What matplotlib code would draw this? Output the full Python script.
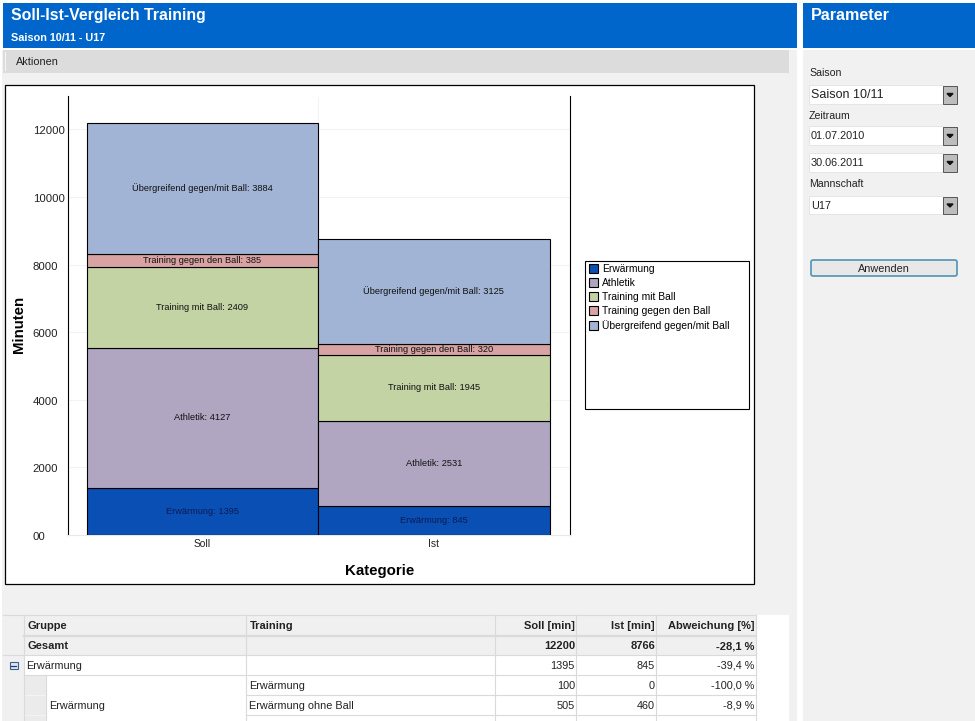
import matplotlib
matplotlib.use("Agg")
import matplotlib.pyplot as plt
from matplotlib.patches import Rectangle, FancyBboxPatch
from matplotlib.transforms import ScaledTranslation

plt.rcParams['font.family'] = ['Liberation Sans', 'DejaVu Sans']

categories = ['Soll', 'Ist']
groups = ['Erwärmung', 'Athletik', 'Training mit Ball', 'Training gegen den Ball', 'Übergreifend gegen/mit Ball']
soll = [1395, 4127, 2409, 385, 3884]
ist = [845, 2531, 1945, 320, 3125]
colors = ['#0a50b4', '#b0a6c2', '#c3d3a3', '#d9a3a3', '#a2b4d5']
yticks = [0, 2000, 4000, 6000, 8000, 10000, 12000]
ytick_labels = ['00', '2000', '4000', '6000', '8000', '10000', '12000']

table_head = ['Gruppe', 'Training', 'Soll [min]', 'Ist [min]', 'Abweichung [%]']
total_row = ['Gesamt', '', '12200', '8766', '-28,1 %']
group_row = ['Erwärmung', '', '1395', '845', '-39,4 %']
detail_rows = [['Erwärmung', '100', '0', '-100,0 %'],
               ['Erwärmung ohne Ball', '505', '460', '-8,9 %']]

W, H = 975, 721
fig = plt.figure(figsize=(W / 100, H / 100), dpi=100, facecolor='white')

# background in pixel coords
bg = fig.add_axes([0, 0, 1, 1], zorder=0)
bg.set_xlim(0, W)
bg.set_ylim(H, 0)
bg.axis('off')


def box(x0, y0, x1, y1, fc, ec='none', lw=0.0, z=1):
    bg.add_patch(Rectangle((x0, y0), x1 - x0, y1 - y0, facecolor=fc, edgecolor=ec, linewidth=lw, zorder=z))


def label(x, y, s, size=7.6, color='#222222', weight='normal', ha='left'):
    bg.text(x, y + 0.6, s, fontsize=size, color=color, fontweight=weight, ha=ha, va='center', zorder=6)


blue = '#0066cc'
box(2, 50, 797, 721, '#f1f1f1')
box(803, 50, 975, 721, '#f1f1f1')
box(3, 3, 797, 48, blue)
box(803, 3, 975, 48, blue)
box(3, 50, 789, 73, '#dcdcdc')
box(5, 52, 6, 71, '#f4f4f4', z=2)
label(11, 15, 'Soll-Ist-Vergleich Training', size=11.4, color='white', weight='bold')
label(11, 37.5, 'Saison 10/11 - U17', size=7.8, color='white', weight='bold')
label(811, 14.5, 'Parameter', size=11.6, color='white', weight='bold')
label(16, 61.5, 'Aktionen', size=7.8)

# right panel
label(809, 72.5, 'Saison')
label(809, 115, 'Zeitraum')
label(809, 183.5, 'Mannschaft')
fields = [(85, 104, 'Saison 10/11', 9), (126, 145, '01.07.2010', 7.8),
          (153, 172, '30.06.2011', 7.8), (196, 214, 'U17', 7.8)]
for y0, y1, txt, fs in fields:
    box(809, y0, 943, y1, 'white', ec='#e2e2e2', lw=0.6)
    box(943, y0 + 1, 957, y1, '#bdbdbd', ec='#555555', lw=0.7)
    bg.fill([947, 953, 950], [(y0 + y1) / 2 - 1, (y0 + y1) / 2 - 1, (y0 + y1) / 2 + 2], color='#111111', zorder=3)
    label(811, (y0 + y1) / 2, txt, size=fs)
bg.add_patch(FancyBboxPatch((811, 260), 146, 16, boxstyle='round,pad=0,rounding_size=2',
                            facecolor='#e8e8e8', edgecolor='#4f93b5', linewidth=1.2, zorder=3))
label(884, 268.5, 'Anwenden', size=7.8, ha='center')

# chart frame and legend frame
box(5, 85, 754, 584, 'white', ec='black', lw=0.9)
box(585, 261, 749, 409, 'white', ec='black', lw=0.8, z=2)

# table
box(3, 615, 789, 721, 'white')
box(3, 615, 756, 655, '#f0f0f0')
box(3, 655, 24, 721, '#f0f0f0')
box(24, 675, 46, 721, '#ebebeb')
line = '#dadada'
bg.plot([3, 756], [615, 615], color=line, lw=0.8, zorder=3)
bg.plot([24, 756], [635.5, 635.5], color=line, lw=1.6, zorder=3)
bg.plot([3, 756], [655, 655], color=line, lw=0.8, zorder=3)
bg.plot([24, 756], [675, 675], color=line, lw=0.8, zorder=3)
for y in [695, 715]:
    bg.plot([24, 46], [y, y], color='#f4f4f4', lw=0.8, zorder=3)
    bg.plot([246, 756], [y, y], color=line, lw=0.8, zorder=3)
for x, top in [(24, 615), (246, 615), (495, 615), (576, 615), (656, 615), (756, 615), (46, 675)]:
    bg.plot([x, x], [top, 721], color=line, lw=0.8, zorder=3)

right_x = [575, 655, 754]
label(28, 625.5, table_head[0], size=8, weight='bold')
label(250, 625.5, table_head[1], size=8, weight='bold')
for x, s in zip(right_x, table_head[2:]):
    label(x, 625.5, s, size=8, weight='bold', ha='right')
label(28, 645.5, total_row[0], size=8, weight='bold')
for x, s in zip(right_x, total_row[2:]):
    label(x, 645.5, s, size=8, weight='bold', ha='right')
label(26.5, 665, group_row[0], size=7.8)
for x, s in zip(right_x, group_row[2:]):
    label(x, 665, s, size=7.8, ha='right')
for y, row in zip([685, 705], detail_rows):
    label(249, y, row[0], size=7.8)
    for x, s in zip(right_x, row[1:]):
        label(x, y, s, size=7.8, ha='right')
label(49, 705, 'Erwärmung', size=7.8)
# expand icon
box(9.5, 662, 17.5, 669, '#dfe6f2', ec='#3a5f8a', lw=0.8, z=5)
bg.plot([11, 16], [665.5, 665.5], color='#1d3f6e', lw=0.9, zorder=6)

# chart
ax = fig.add_axes([67.5 / W, 1 - 534.8 / H, (570 - 67.5) / W, (534.8 - 96.5) / H], zorder=2)
ax.patch.set_visible(False)
bottoms = [0, 0]
handles = []
for i, g in enumerate(groups):
    vals = [soll[i], ist[i]]
    bars = ax.bar([0, 1], vals, width=1.0, bottom=bottoms, color=colors[i], edgecolor='black', linewidth=0.8, zorder=3)
    handles.append(bars[0])
    for j, v in enumerate(vals):
        txt_col = '#0a1a55' if i == 0 else '#111111'
        ax.text(j, bottoms[j] + v / 2, f'{g}: {v}', ha='center', va='center', fontsize=6.7, color=txt_col, zorder=4)
    bottoms = [bottoms[0] + vals[0], bottoms[1] + vals[1]]

ax.set_xlim(-0.583, 1.588)
ax.set_ylim(0, 12975)
ax.set_xticks([0, 1], categories)
ax.set_yticks(yticks, ytick_labels, ha='left')
ax.tick_params(axis='x', length=0, labelsize=7.4, pad=3, labelcolor='#222222')
ax.tick_params(axis='y', length=0, labelsize=8.2, pad=25, labelcolor='#222222')
for t in ax.get_yticklabels():
    t.set_transform(t.get_transform() + ScaledTranslation(0, -0.01, fig.dpi_scale_trans))
ax.grid(axis='y', color='#f3f3f3', lw=0.8, zorder=0)
ax.axvline(0.5, color='#f3f3f3', lw=0.8, zorder=0)
ax.spines['top'].set_visible(False)
ax.spines['bottom'].set_color('#e8e8e8')
ax.spines['left'].set_linewidth(0.8)
ax.spines['right'].set_linewidth(0.8)
ax.set_xlabel('Kategorie', fontsize=10.8, fontweight='bold')
ax.xaxis.set_label_coords((379.5 - 67.5) / 502.5, -(571 - 534.8) / 438.3, transform=ax.transAxes)
ax.xaxis.label.set_va('center')
ax.set_ylabel('Minuten', fontsize=10.8, fontweight='bold')
ax.yaxis.set_label_coords(-(67.5 - 19) / 502.5, (534.8 - 324.5) / 438.3, transform=ax.transAxes)
ax.yaxis.label.set_va('center')

fig.legend(handles, groups, loc='upper left', bbox_to_anchor=(586.5 / W, 1 - 261.5 / H), frameon=False,
           fontsize=7.4, handlelength=0.88, handleheight=1.0, handletextpad=0.4,
           labelspacing=0.38, borderpad=0.22, borderaxespad=0)

fig.savefig('out.png', dpi=100, facecolor='white')
